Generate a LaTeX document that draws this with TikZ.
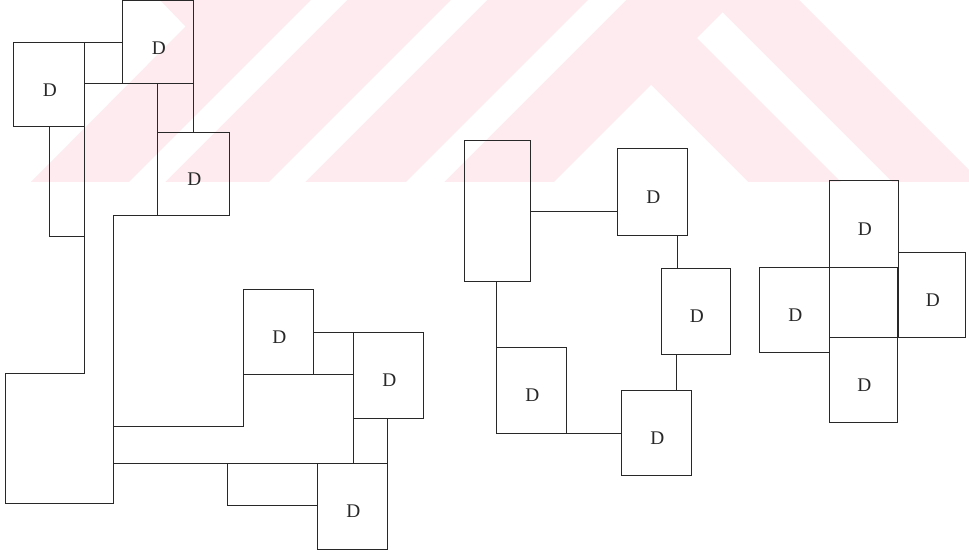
\documentclass[tikz,border=0pt]{standalone}
\usepackage{fontspec}
\newfontfamily\labfont{Liberation Serif}
\usetikzlibrary{fit}
\definecolor{wm}{RGB}{253,235,239}
\definecolor{ln}{RGB}{40,40,40}
\begin{document}
\begin{tikzpicture}[x=0.75pt,y=-0.75pt,
  wall/.style={draw=ln, line width=0.75pt},
  room/.style={wall, rectangle, inner sep=0pt, outer sep=0pt},
  dlab/.style={font=\labfont\fontsize{14.5}{17}\selectfont, xshift=1pt, yshift=-4pt, inner sep=0pt, text=ln},
  dbox/.style={room, label={[dlab]center:D}},
  wmfill/.style={fill=wm, draw=none},
  wmgap/.style={fill=white, draw=none}]
\useasboundingbox (0,0) rectangle (969,552);
\fill[white] (0,0) rectangle (969,552);
% watermark
\path[wmfill] (160,0) -- (799,0) -- (969,170) -- (969,182) -- (31,182) -- (185.5,26.5) -- cycle;
\path[wmgap] (311,0) -- (347,0) -- (165,182) -- (129,182) -- cycle;
\path[wmgap] (451,0) -- (487,0) -- (305,182) -- (269,182) -- cycle;
\path[wmgap] (588,0) -- (626,0) -- (444,182) -- (406,182) -- cycle;
\path[wmgap] (651,85) -- (748,182) -- (554,182) -- cycle;
\path[wmgap] (697,38) -- (722.5,12.5) -- (892,182) -- (841,182) -- cycle;
% left group
\node[dbox, fit={(122,1) (193,84)}] (A) {};
\node[dbox, fit={(13,43) (84,127)}] (B) {};
\node[dbox, fit={(157,133) (229,215)}] (C) {};
\node[dbox, fit={(243,289) (313,374)}] (E) {};
\node[dbox, fit={(353,332) (423,418)}] (F) {};
\node[dbox, fit={(317,463) (387,549)}] (G) {};
\draw[wall] (B.north east) -- (A.north west |- B.north east);
\draw[wall] (B.east |- A.south) -- (A.south east);
\draw[wall] (C.north west |- A.south) -- (C.north west);
\draw[wall] (A.south east) -- (A.south east |- C.north);
\draw[wall] (49,127) -- (49,236) -- (84,236);
\draw[wall] (84,127) -- (84,373) -- (5,373) -- (5,503) -- (113,503) -- (113,215) -- (C.south west);
\draw[wall] (113,426) -- (243,426) -- (E.south west) -- (F.west |- E.south);
\draw[wall] (E.north east |- F.north) -- (F.north west);
\draw[wall] (F.south west) -- (F.west |- G.north);
\draw[wall] (G.north east |- F.south) -- (G.north east);
\draw[wall] (113,463) -- (G.north east);
\draw[wall] (227,463) -- (227,505) -- (G.west |- 0,505);
% middle group
\node[room, fit={(464,141) (530,281)}] (H) {};
\node[dbox, fit={(617,149) (687,235)}] (I) {};
\node[dbox, fit={(661,268) (730,354)}] (J) {};
\node[dbox, fit={(621,390) (691,475)}] (K) {};
\node[dbox, fit={(496,347) (566,433)}] (L) {};
\coordinate (ij) at (677,250);
\coordinate (jk) at (676,372);
\draw[wall] (H.east) -- (H.east -| I.west);
\draw[wall] (ij |- I.south) -- (ij |- J.north);
\draw[wall] (jk |- J.south) -- (jk |- K.north);
\draw[wall] (L.north west |- H.south) -- (L.north west);
\draw[wall] (L.south east) -- (L.south east -| K.west);
% right group
\node[dbox, fit={(829,181) (898,267)}] (N) {};
\node[room, fit={(829,267) (897,337)}] (M) {};
\node[dbox, fit={(759,267) (829,352)}] (W) {};
\node[dbox, fit={(898,252) (965,337)}] (R) {};
\node[dbox, fit={(829,337) (897,422)}] (S) {};
\end{tikzpicture}
\end{document}
